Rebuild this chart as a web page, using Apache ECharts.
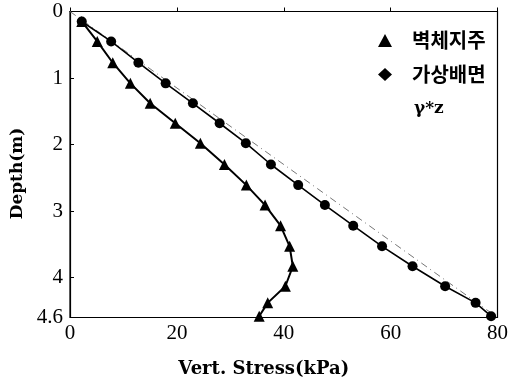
<!DOCTYPE html>
<html>
<head>
<meta charset="utf-8">
<script src="https://cdn.jsdelivr.net/npm/echarts@6/dist/echarts.min.js"></script>
<style>html,body{margin:0;padding:0;background:#fff;}#c{width:511px;height:384px;}</style>
</head>
<body>
<div id="c"></div>
<script>
// Data
const depths = [0.15, 0.45, 0.77, 1.08, 1.38, 1.68, 1.98, 2.30, 2.61, 2.91, 3.22, 3.53, 3.83, 4.13, 4.38, 4.58];
const wallStress = [2.2, 5.1, 8.0, 11.3, 15.0, 19.7, 24.4, 28.9, 33.0, 36.5, 39.4, 41.1, 41.7, 40.3, 37.0, 35.4];
const virtualStress = [2.2, 7.7, 12.8, 17.9, 23.0, 28.0, 32.9, 37.6, 42.7, 47.7, 53.0, 58.4, 64.1, 70.2, 75.9, 78.8];
const gammaDepths = [0, 4.6];
const gammaStress = [0, 80];
const xTicks = [0, 20, 40, 60, 80];
const yTicks = [0, 1, 2, 3, 4, 4.6];
const seriesNames = ['벽체지주', '가상배면', 'γ*z'];

const pairs = (xs, ys) => xs.map((x, i) => [x, ys[i]]);
const serif = '"Liberation Serif", "DejaVu Serif", serif';
const chart = echarts.init(document.getElementById('c'), null, {renderer: 'canvas'});
chart.setOption({
  backgroundColor: '#fff',
  animation: false,
  grid: {left: 70, right: 10, top: 11.5, bottom: 66.5, show: true, borderColor: '#000', borderWidth: 1.2},
  legend: {
    orient: 'vertical', left: 378, top: 30, padding: 0,
    itemWidth: 14, itemHeight: 13, itemGap: 13,
    textStyle: {fontFamily: '"Noto Sans CJK KR", sans-serif', fontSize: 20, fontWeight: 'bold', color: '#000', lineHeight: 21, padding: [0, 0, 0, 15]},
    data: [
      {name: seriesNames[0], icon: 'triangle'},
      {name: seriesNames[1], icon: 'diamond'},
      {name: seriesNames[2], icon: 'none', textStyle: {fontFamily: '"DejaVu Serif", serif', fontWeight: 'bold', fontSize: 17, padding: [0, 0, 0, 17]}}
    ]
  },
  xAxis: {
    type: 'value', min: 0, max: 80, interval: 20,
    name: 'Vert. Stress(kPa)', nameLocation: 'middle', nameGap: 43,
    nameTextStyle: {fontFamily: '"DejaVu Serif", serif', fontWeight: 'bold', fontSize: 18, color: '#000', padding: [0, 40, 0, 0]},
    axisLine: {lineStyle: {color: '#000', width: 1.2}},
    axisTick: {inside: true, length: 4, lineStyle: {color: '#000'}},
    axisLabel: {customValues: xTicks, fontFamily: serif, fontSize: 21, color: '#000', margin: 5},
    splitLine: {show: false}
  },
  yAxis: {
    type: 'value', min: 0, max: 4.6, inverse: true,
    name: 'Depth(m)', nameLocation: 'middle', nameGap: 44,
    nameTextStyle: {fontFamily: '"DejaVu Serif", serif', fontWeight: 'bold', fontSize: 17, color: '#000', padding: [0, 18, 0, 0]},
    axisLine: {lineStyle: {color: '#000', width: 1.2}},
    axisTick: {inside: true, length: 4, customValues: yTicks, lineStyle: {color: '#000'}},
    axisLabel: {customValues: yTicks, fontFamily: serif, fontSize: 21, color: '#000', margin: 7},
    splitLine: {show: false}
  },
  series: [
    {
      name: seriesNames[0], type: 'line', data: pairs(wallStress, depths),
      symbol: 'triangle', symbolSize: 11, color: '#000',
      lineStyle: {color: '#000', width: 2}, itemStyle: {color: '#000'}
    },
    {
      name: seriesNames[1], type: 'line', data: pairs(virtualStress, depths),
      symbol: 'circle', symbolSize: 10, color: '#000',
      lineStyle: {color: '#000', width: 1.6}, itemStyle: {color: '#000'}
    },
    {
      name: seriesNames[2], type: 'line', data: pairs(gammaStress, gammaDepths),
      symbol: 'none', color: '#777', z: 1,
      lineStyle: {color: '#777', width: 1, type: [7, 4, 1, 4]}
    }
  ]
});
</script>
</body>
</html>
